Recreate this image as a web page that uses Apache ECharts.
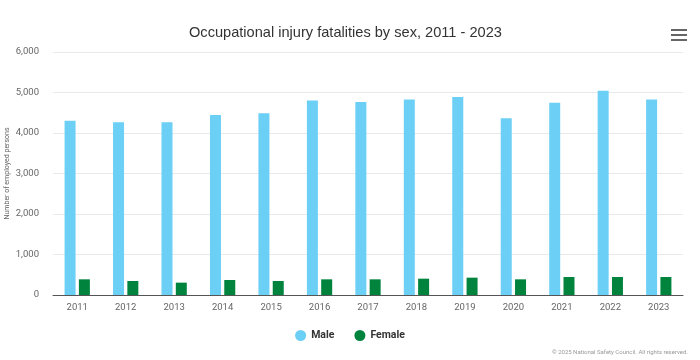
<!DOCTYPE html>
<html>
<head>
<meta charset="utf-8">
<script src="https://cdn.jsdelivr.net/npm/echarts@6/dist/echarts.min.js"></script>
<style>html,body{margin:0;padding:0;background:#fff}#c{width:700px;height:360px}</style>
</head>
<body>
<div id="c"></div>
<script>
var titleText = 'Occupational injury fatalities by sex, 2011 - 2023';
var years = ['2011','2012','2013','2014','2015','2016','2017','2018','2019','2020','2021','2022','2023'];
var male = [4305, 4265, 4265, 4445, 4490, 4800, 4765, 4825, 4890, 4362, 4750, 5045, 4825];
var female = [387, 346, 305, 370, 346, 387, 387, 403, 428, 387, 444, 444, 444];
var yAxisName = 'Number of employed persons';
var credits = '\u00a9 2025 National Safety Council. All rights reserved.';

var chart = echarts.init(document.getElementById('c'), null, {renderer: 'canvas'});
chart.setOption({
  animation: false,
  backgroundColor: '#ffffff',
  textStyle: {fontFamily: 'Roboto, sans-serif'},
  title: {
    text: titleText,
    left: 184,
    top: 20,
    textStyle: {fontFamily: 'Liberation Sans, Arial, sans-serif', fontSize: 14.6, fontWeight: 'normal', color: '#333333'}
  },
  legend: {
    data: ['Male', 'Female'],
    bottom: 14,
    left: 'center',
    icon: 'circle',
    itemWidth: 11,
    itemHeight: 11,
    itemGap: 20,
    textStyle: {fontSize: 10.5, fontWeight: 'bold', color: '#333333'}
  },
  grid: {left: 53, right: 17, top: 52, bottom: 65, containLabel: false, outerBoundsMode: 'none'},
  xAxis: {
    type: 'category',
    data: years,
    axisLine: {lineStyle: {color: '#555555', width: 1}},
    axisTick: {alignWithLabel: true, length: 5, lineStyle: {color: '#555555'}},
    axisLabel: {color: '#666666', fontSize: 9.5, margin: 8}
  },
  yAxis: {
    type: 'value',
    min: 0,
    max: 6000,
    interval: 1000,
    name: yAxisName,
    nameLocation: 'middle',
    nameGap: 42,
    nameMoveOverlap: false,
    nameTextStyle: {fontSize: 7, color: '#666666'},
    axisLabel: {
      color: '#666666', fontSize: 9.5, margin: 14,
      formatter: function (v) { return v.toLocaleString('en-US'); }
    },
    splitLine: {lineStyle: {color: '#e9e9e9', width: 1}},
    axisLine: {show: false},
    axisTick: {show: false}
  },
  series: [
    {name: 'Male', type: 'bar', data: male, barWidth: 11, barGap: '30%', itemStyle: {color: '#6ccff6'}},
    {name: 'Female', type: 'bar', data: female, barWidth: 11, itemStyle: {color: '#00843d'}}
  ],
  graphic: [
    {type: 'rect', left: 671, top: 29, shape: {width: 16, height: 2}, style: {fill: '#666666'}},
    {type: 'rect', left: 671, top: 34, shape: {width: 16, height: 2}, style: {fill: '#666666'}},
    {type: 'rect', left: 671, top: 39, shape: {width: 16, height: 2}, style: {fill: '#666666'}},
    {type: 'text', right: 12, top: 349, style: {text: credits, fontSize: 6, fill: '#999999', fontFamily: 'Roboto, sans-serif'}}
  ]
});
</script>
</body>
</html>
